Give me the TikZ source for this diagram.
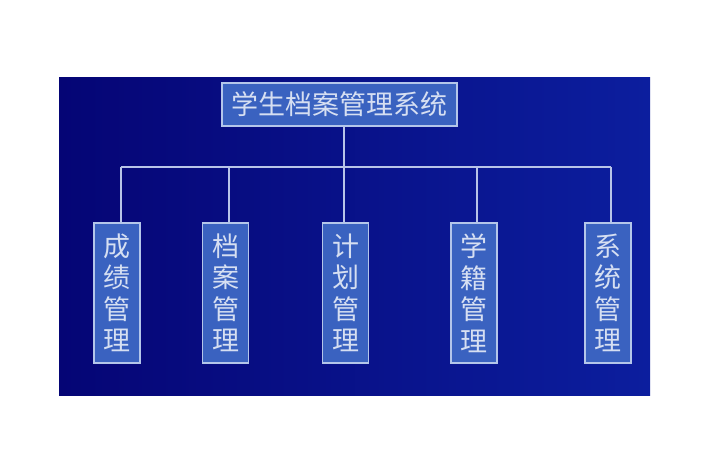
\documentclass[tikz,border=0pt]{standalone}
\usepackage{fontspec}
\newfontfamily\cjk{Noto Sans CJK SC}
\definecolor{bgL}{HTML}{050575}
\definecolor{bgR}{HTML}{0C1E9E}
\definecolor{boxfill}{HTML}{3A62C0}
\definecolor{boxedge}{HTML}{B4C6EA}
\definecolor{txt}{HTML}{D6DFF2}
\definecolor{lineC}{HTML}{B8C4E8}
\tikzset{
  topbox/.style={draw=boxedge, line width=1.3pt, fill=boxfill, text=txt,
    minimum width=235pt, minimum height=43pt, inner sep=0pt,
    font=\cjk\fontsize{27}{27}\selectfont},
  vbox/.style={draw=boxedge, line width=1.3pt, fill=boxfill, text=txt,
    minimum width=46pt, minimum height=140pt, inner sep=0pt, align=center,
    font=\cjk\fontsize{27}{31.5}\selectfont},
  conn/.style={draw=lineC, line width=1.1pt}
}
\begin{document}
\begin{tikzpicture}[x=1pt,y=-1pt]
\useasboundingbox (0,0) rectangle (709,473);
\fill[white] (0,0) rectangle (709,473);
\shade[left color=bgL, right color=bgR] (59,78) rectangle (650,395);
\node[topbox] (top) at (339.5,104.5) {学生档案管理系统};
\node[vbox] (b1) at (117,293) {成\\绩\\管\\理};
\node[vbox] (b2) at (225.5,293) {档\\案\\管\\理};
\node[vbox] (b3) at (345.5,293) {计\\划\\管\\理};
\node[vbox] (b4) at (474,293) {学\\籍\\管\\理};
\node[vbox] (b5) at (608,293) {系\\统\\管\\理};
\coordinate (hub) at (344,167);
\coordinate (h1) at (121,167);
\coordinate (h2) at (229,167);
\coordinate (h4) at (477,167);
\coordinate (h5) at (611,167);
\draw[conn] (top.south -| hub) -- (hub);
\draw[conn] (h1) -- (h5);
\draw[conn] (h1) -- (h1 |- b1.north);
\draw[conn] (h2) -- (h2 |- b2.north);
\draw[conn] (hub) -- (hub |- b3.north);
\draw[conn] (h4) -- (h4 |- b4.north);
\draw[conn] (h5) -- (h5 |- b5.north);
\end{tikzpicture}
\end{document}
